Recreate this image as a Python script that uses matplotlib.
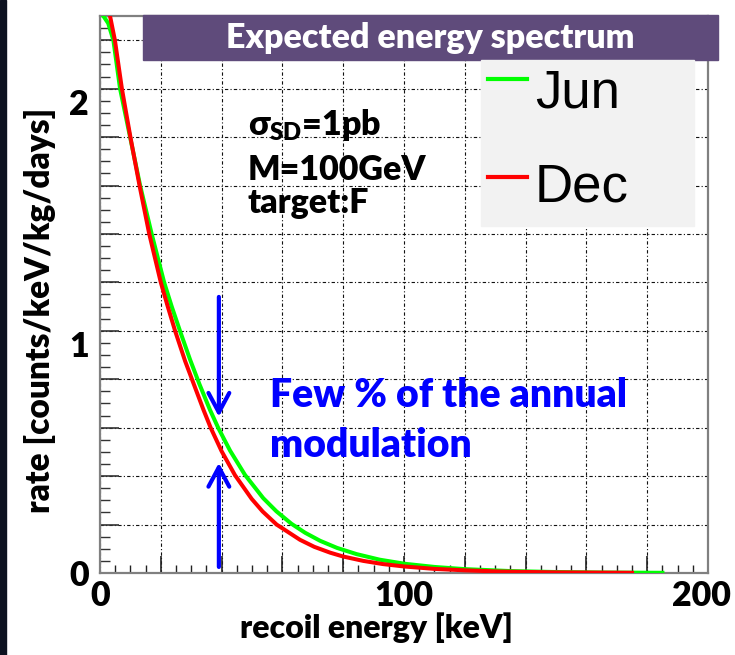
import matplotlib
matplotlib.use("Agg")
import matplotlib.pyplot as plt
from matplotlib.ticker import MultipleLocator, FuncFormatter
from matplotlib.patches import Rectangle
from matplotlib.lines import Line2D
from matplotlib.transforms import ScaledTranslation

# Expected recoil spectra (rate vs recoil energy) for June and December
energy_jun = [1.1, 2.7, 4.4, 6.6, 9.9, 13.2, 17.0, 21.1, 23.6, 26.3, 29.6, 32.7,
              36.2, 38.9, 42.8, 47.7, 53.7, 58.0, 63.0, 67.5, 72.4, 78.0, 84.4,
              92.0, 100.3, 110.0, 120.0, 135.0, 150.0, 165.0, 185.0]
rate_jun = [2.30, 2.27, 2.20, 2.00, 1.80, 1.60, 1.40, 1.20, 1.10, 1.00, 0.882, 0.780,
            0.673, 0.599, 0.505, 0.405, 0.309, 0.255, 0.203, 0.166, 0.133, 0.1035,
            0.078, 0.055, 0.038, 0.025, 0.016, 0.008, 0.004, 0.002, 0.0008]

energy_dec = [3.3, 4.9, 7.2, 10.0, 13.0, 16.2, 20.0, 22.3, 24.7, 28.0, 30.7, 34.0,
              36.4, 40.0, 44.4, 49.9, 53.5, 58.1, 65.8, 70.5, 75.7, 80.0, 86.6,
              93.0, 100.0, 110.0, 120.0, 131.6, 150.0, 175.0]
rate_dec = [2.30, 2.20, 2.00, 1.80, 1.60, 1.40, 1.20, 1.10, 1.00, 0.875, 0.785, 0.675,
            0.600, 0.503, 0.404, 0.306, 0.254, 0.200, 0.137, 0.108, 0.084, 0.068,
            0.050, 0.037, 0.027, 0.017, 0.011, 0.006, 0.0025, 0.0008]

series_labels = ["Jun", "Dec"]
x_labelled_ticks = [0, 100, 200]
y_labelled_ticks = [0, 1, 2]

W, H = 735, 655
BOLD = ["Lato", "DejaVu Sans"]
WT = "heavy"
plt.rcParams["mathtext.fontset"] = "custom"
plt.rcParams["mathtext.rm"] = "Lato:heavy"
plt.rcParams["mathtext.bf"] = "Lato:heavy"
plt.rcParams["mathtext.it"] = "Lato:heavy"


def px(x, y):
    """Pixel position (from top-left) to figure fraction."""
    return x / W, 1 - y / H


fig = plt.figure(figsize=(W / 100, H / 100), dpi=100)
fig.patch.set_facecolor("white")

# dark slide edge on the left
fig.add_artist(Rectangle((0, 0), 6 / W, 1, transform=fig.transFigure,
                         color="#0d1220", zorder=0))

ax = fig.add_axes([100 / W, 82 / H, 608 / W, 557 / H])
ax.set_xlim(0, 200)
ax.set_ylim(0, 2.3)

l_jun, = ax.plot(energy_jun, rate_jun, color="#00ff00", lw=2.9, zorder=3)
l_dec, = ax.plot(energy_dec, rate_dec, color="#ff0000", lw=2.9, zorder=4)

# ticks and grid
ax.xaxis.set_major_locator(MultipleLocator(20))
ax.xaxis.set_minor_locator(MultipleLocator(5))
ax.yaxis.set_major_locator(MultipleLocator(0.2))
ax.yaxis.set_minor_locator(MultipleLocator(0.05))


def only(vals):
    def f(v, pos):
        for t in vals:
            if abs(v - t) < 1e-6:
                return str(t)
        return ""
    return FuncFormatter(f)


ax.xaxis.set_major_formatter(only(x_labelled_ticks))
ax.yaxis.set_major_formatter(only(y_labelled_ticks))
ax.tick_params(axis="x", which="major", direction="in", length=12, width=1.2,
               color="#222222", pad=5)
ax.tick_params(axis="x", which="minor", direction="in", length=6, width=1.0,
               color="#222222")
ax.tick_params(axis="y", which="major", direction="in", length=14, width=1.2,
               color="#333333", pad=8)
ax.tick_params(axis="y", which="minor", direction="in", length=7, width=1.0,
               color="#333333")
for lab in ax.xaxis.get_majorticklabels() + ax.yaxis.get_majorticklabels():
    lab.set_family(BOLD)
    lab.set_fontweight(WT)
    lab.set_fontsize(24.5)
# the "1" and "2" labels sit just below their ticks
for lab in ax.yaxis.get_majorticklabels():
    if lab.get_text() in ("1", "2"):
        lab.set_va("top")
# keep the last x label inside the canvas
for lab in ax.xaxis.get_majorticklabels():
    if lab.get_text() == "200":
        lab.set_transform(lab.get_transform()
                          + ScaledTranslation(-0.07, 0, fig.dpi_scale_trans))

for s in ax.spines.values():
    s.set_color("#808080")
    s.set_linewidth(1.6)

ax.grid(True, which="major", color="#111111", lw=0.8, ls=(0, (3, 2, 1, 2)))
ax.set_axisbelow(True)

ax.set_xlabel("recoil energy [keV]", family=BOLD, fontweight=WT, fontsize=23)
ax.xaxis.set_label_coords((376 - 100) / 608, (573 - 628) / 557)
ax.xaxis.label.set_va("center")
ax.set_ylabel("rate [counts/keV/kg/days]", family=BOLD, fontweight=WT,
              fontsize=24)
ax.yaxis.set_label_coords((40 - 100) / 608, (573 - 310) / 557)
ax.yaxis.label.set_va("center")

# title banner
fig.add_artist(Rectangle(px(143, 60), 575 / W, 45 / H, transform=fig.transFigure,
                         color="#5f4b7b", zorder=5))
fig.text(*px(430, 38), "Expected energy spectrum", color="white", family=BOLD,
         fontweight=WT, fontsize=24.5, ha="center", va="center", zorder=6)

# legend panel
fig.add_artist(Rectangle(px(481, 226), 213 / W, 166 / H, transform=fig.transFigure,
                         color="#f2f2f2", zorder=5))
for line, label, ybase, yline in [(l_jun, series_labels[0], 107, 79),
                                  (l_dec, series_labels[1], 202, 177)]:
    x0, y0 = px(488, yline)
    x1, _ = px(527, yline)
    fig.add_artist(Line2D([x0, x1], [y0, y0], transform=fig.transFigure,
                          color=line.get_color(), lw=3, zorder=6))
    fig.text(*px(535, ybase), label, family="Liberation Sans", fontsize=38,
             ha="left", va="baseline", color="black", zorder=6)

# model parameters
fig.text(*px(248, 135), r"σ$_{\mathbf{SD}}$=1pb", family=BOLD, fontweight=WT,
         fontsize=24.5, ha="left", va="baseline", zorder=6)
fig.text(*px(248, 180), "M=100GeV", family=BOLD, fontweight=WT,
         fontsize=24.5, ha="left", va="baseline", zorder=6)
fig.text(*px(248, 213), "target:F", family=BOLD, fontweight=WT,
         fontsize=24.5, ha="left", va="baseline", zorder=6)

# annual modulation annotation
fig.text(*px(270, 407), "Few % of the annual", family=BOLD, fontweight=WT,
         fontsize=28.2, ha="left", va="baseline", color="#0000ff", zorder=6)
fig.text(*px(270, 457), "modulation", family=BOLD, fontweight=WT,
         fontsize=28.2, ha="left", va="baseline", color="#0000ff", zorder=6)

arrow_x = 39.1
arrow_kw = dict(arrowstyle="->,head_length=1.4,head_width=0.75", color="#0000ff",
                lw=3, shrinkA=0, shrinkB=0)
ax.annotate("", xy=(arrow_x, 0.645), xytext=(arrow_x, 1.14), arrowprops=arrow_kw,
            zorder=6)
ax.annotate("", xy=(arrow_x, 0.455), xytext=(arrow_x, 0.025), arrowprops=arrow_kw,
            zorder=6)

fig.savefig("out.png", dpi=100)
